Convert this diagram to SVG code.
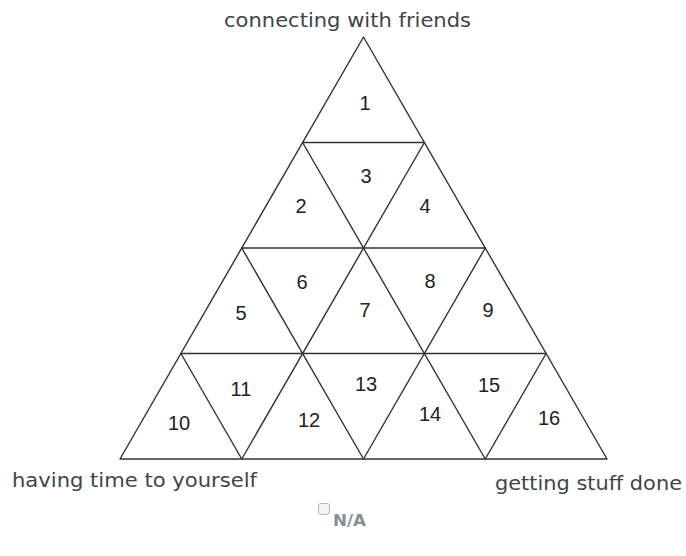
<svg xmlns="http://www.w3.org/2000/svg" width="686" height="556" viewBox="0 0 686 556">
<style>
.edge{stroke:#333;stroke-width:1.4;fill:none;stroke-linecap:round;stroke-linejoin:round}
.num{font-family:"Liberation Sans",Arial,sans-serif;font-size:20px;fill:#222;text-anchor:middle}
.axis{font-family:"DejaVu Sans",Verdana,sans-serif;font-size:20px;fill:#3e4548}
.na{font-family:"DejaVu Sans",Verdana,sans-serif;font-size:16px;font-weight:bold;fill:#8a8f93}
</style>
<rect width="686" height="556" fill="#fff"/>
<g id="connectors">
<polygon class="edge" points="363.5,37 120,459 607,459"/>
<line class="edge" x1="302.6" y1="142.5" x2="424.4" y2="142.5"/>
<line class="edge" x1="241.75" y1="248" x2="485.25" y2="248"/>
<line class="edge" x1="180.9" y1="353.5" x2="546.1" y2="353.5"/>
<line class="edge" x1="241.75" y1="459" x2="424.4" y2="142.5"/>
<line class="edge" x1="363.5" y1="459" x2="485.25" y2="248"/>
<line class="edge" x1="485.25" y1="459" x2="546.1" y2="353.5"/>
<line class="edge" x1="241.75" y1="459" x2="180.9" y2="353.5"/>
<line class="edge" x1="363.5" y1="459" x2="241.75" y2="248"/>
<line class="edge" x1="485.25" y1="459" x2="302.6" y2="142.5"/>
</g>
<g id="n1"><text class="num" x="365" y="110">1</text></g>
<g id="n2"><text class="num" x="301" y="213">2</text></g>
<g id="n3"><text class="num" x="366" y="183">3</text></g>
<g id="n4"><text class="num" x="425" y="213">4</text></g>
<g id="n5"><text class="num" x="241" y="320">5</text></g>
<g id="n6"><text class="num" x="302" y="289">6</text></g>
<g id="n7"><text class="num" x="365" y="317">7</text></g>
<g id="n8"><text class="num" x="430" y="288">8</text></g>
<g id="n9"><text class="num" x="488" y="317">9</text></g>
<g id="n10"><text class="num" x="179" y="430">10</text></g>
<g id="n11"><text class="num" x="241" y="396">11</text></g>
<g id="n12"><text class="num" x="309" y="427">12</text></g>
<g id="n13"><text class="num" x="366" y="391">13</text></g>
<g id="n14"><text class="num" x="430" y="421">14</text></g>
<g id="n15"><text class="num" x="489" y="392">15</text></g>
<g id="n16"><text class="num" x="549" y="425">16</text></g>
<g id="labels">
<text class="axis" x="224" y="27" textLength="247" lengthAdjust="spacingAndGlyphs">connecting with friends</text>
<text class="axis" x="12" y="487" textLength="245" lengthAdjust="spacingAndGlyphs">having time to yourself</text>
<text class="axis" x="495" y="490" textLength="187" lengthAdjust="spacingAndGlyphs">getting stuff done</text>
</g>
<g id="na">
<rect x="318.5" y="503.5" width="11" height="11" rx="2.5" fill="#f4f4f4" stroke="#b8b8b8" stroke-width="1"/>
<text class="na" x="333" y="526" textLength="33" lengthAdjust="spacingAndGlyphs">N/A</text>
</g>
</svg>
